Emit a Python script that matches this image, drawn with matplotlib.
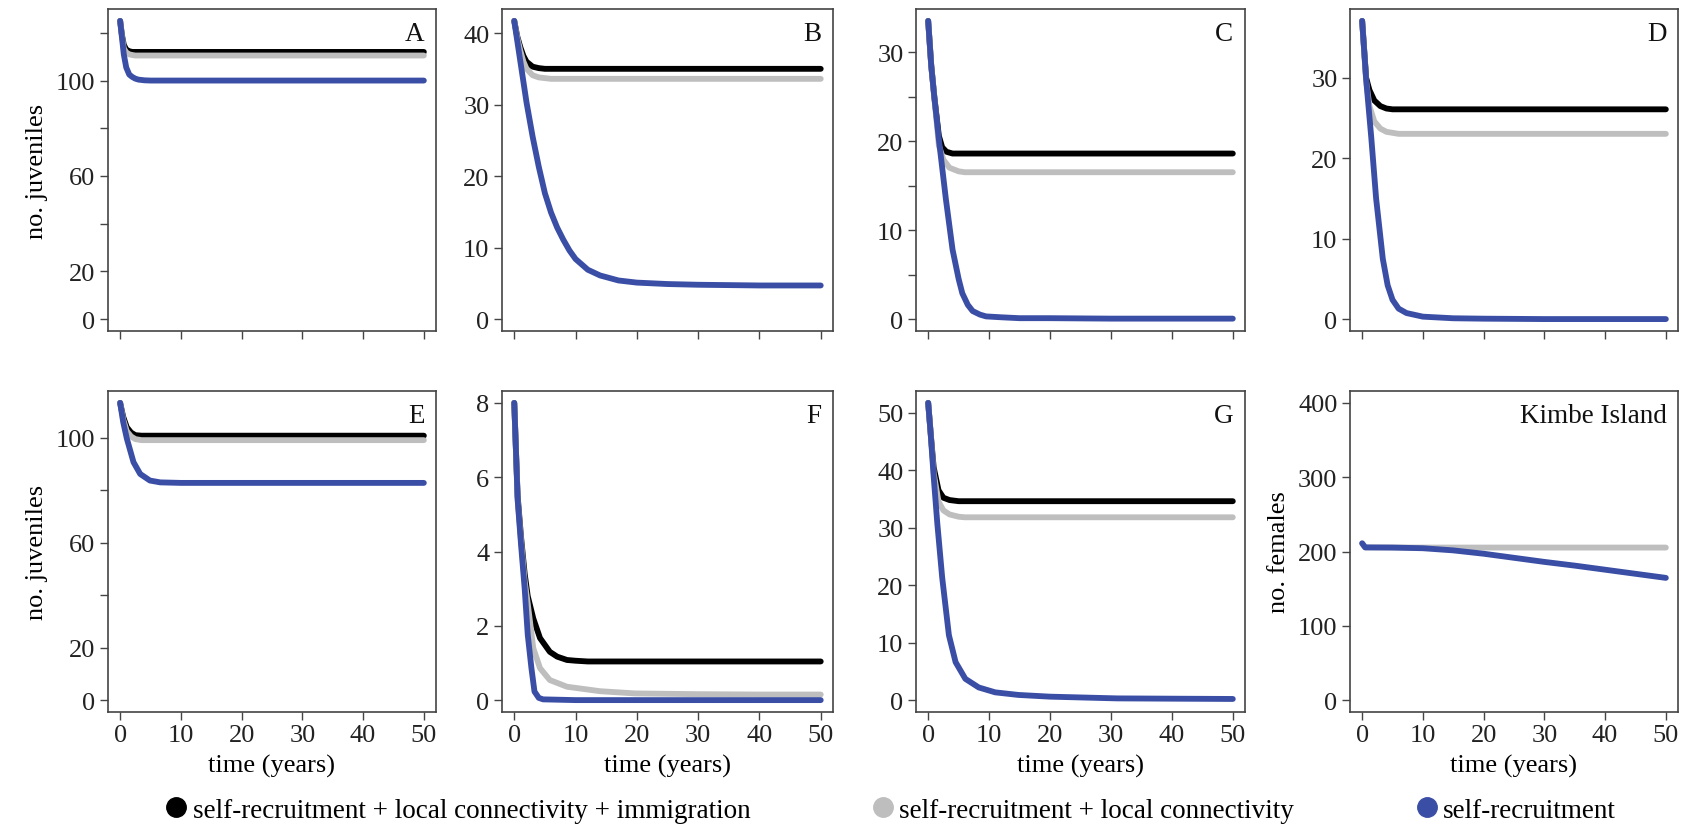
import matplotlib
matplotlib.use('Agg')
import matplotlib.pyplot as plt
from matplotlib.lines import Line2D

plt.rcParams['font.family'] = ['Liberation Serif', 'DejaVu Serif']
plt.rcParams['font.size'] = 19

BLACK = '#000000'
GRAY = '#bebebe'
BLUE = '#3a4ea6'

legend_labels = ['self-recruitment + local connectivity + immigration',
                 'self-recruitment + local connectivity',
                 'self-recruitment']

# ---- data: (time, value) per series and panel ----
# A
tA_blue = [0, 0.3, 0.6, 1, 1.5, 2, 2.5, 3, 4, 5, 10, 20, 30, 40, 50]
yA_blue = [125, 118, 111, 105.5, 102.5, 101.5, 100.8, 100.4, 100.1, 100, 100, 100, 100, 100, 100]
tA_black = [0, 0.3, 0.6, 1, 1.5, 2, 3, 10, 20, 30, 40, 50]
yA_black = [125, 119, 115, 113, 112.3, 112, 112, 112, 112, 112, 112, 112]
tA_gray = [0, 0.3, 0.6, 1, 1.5, 2, 2.5, 3, 10, 20, 30, 40, 50]
yA_gray = [125, 118.5, 113.5, 111.8, 111, 110.7, 110.5, 110.5, 110.5, 110.5, 110.5, 110.5, 110.5]

# B
tB_blue = [0, 1, 2, 3, 4, 5, 6, 7, 8, 9, 10, 12, 14, 17, 20, 25, 30, 40, 50]
yB_blue = [41.7, 36.0, 30.3, 25.5, 21.3, 17.6, 14.9, 12.8, 11.1, 9.6, 8.4, 6.9, 6.1, 5.4, 5.1, 4.9, 4.8, 4.7, 4.7]
tB_black = [0, 0.5, 1, 1.5, 2, 3, 4, 5, 10, 20, 30, 40, 50]
yB_black = [41.7, 39.5, 38, 36.8, 36.0, 35.3, 35.1, 35.0, 35.0, 35.0, 35.0, 35.0, 35.0]
tB_gray = [0, 0.5, 1, 1.5, 2, 3, 4, 6, 10, 20, 30, 40, 50]
yB_gray = [41.7, 39.3, 37.5, 36, 35, 34.1, 33.8, 33.6, 33.6, 33.6, 33.6, 33.6, 33.6]

# C
tC_blue = [0, 0.5, 1, 1.75, 2.9, 4, 5, 5.6, 6.5, 7.3, 8.5, 9.5, 12, 15, 20, 30, 40, 50]
yC_blue = [33.5, 28.5, 25, 20.2, 13.5, 7.8, 4.5, 2.9, 1.6, 0.9, 0.5, 0.3, 0.2, 0.1, 0.1, 0.05, 0.05, 0.05]
tC_black = [0, 0.5, 1, 1.75, 2.3, 3, 4, 10, 20, 30, 40, 50]
yC_black = [33.5, 28.5, 25, 20.6, 19.3, 18.8, 18.6, 18.6, 18.6, 18.6, 18.6, 18.6]
tC_gray = [0, 0.5, 1, 1.75, 2.5, 3.5, 5, 6, 10, 20, 30, 40, 50]
yC_gray = [33.5, 28.5, 25, 19.5, 17.9, 17.0, 16.6, 16.5, 16.5, 16.5, 16.5, 16.5, 16.5]

# D
tD_blue = [0, 0.66, 1.5, 2.3, 3.4, 4.2, 5, 6, 7.3, 10, 15, 20, 30, 40, 50]
yD_blue = [37.1, 29.8, 22.6, 15, 7.5, 4.2, 2.4, 1.3, 0.75, 0.3, 0.1, 0.05, 0, 0, 0]
tD_black = [0, 0.66, 1.2, 2, 3, 4, 5, 10, 20, 30, 40, 50]
yD_black = [37.1, 30, 28.5, 27.2, 26.5, 26.2, 26.1, 26.1, 26.1, 26.1, 26.1, 26.1]
tD_gray = [0, 0.66, 1.2, 2, 3, 4, 6, 10, 20, 30, 40, 50]
yD_gray = [37.1, 29.6, 26.5, 24.6, 23.7, 23.3, 23.05, 23.05, 23.05, 23.05, 23.05, 23.05]

# E
tE_blue = [0, 0.5, 1.1, 2.2, 3.3, 4.9, 6.6, 10, 20, 30, 40, 50]
yE_blue = [113.3, 106, 99.7, 90.7, 86.2, 83.7, 83, 82.8, 82.8, 82.8, 82.8, 82.8]
tE_black = [0, 0.5, 1.1, 1.8, 2.5, 3.5, 10, 20, 30, 40, 50]
yE_black = [113.3, 108, 104, 102, 101, 100.8, 100.8, 100.8, 100.8, 100.8, 100.8]
tE_gray = [0, 0.5, 1.1, 1.8, 2.5, 3.5, 10, 20, 30, 40, 50]
yE_gray = [113.3, 107, 102.5, 100.5, 99.5, 99.1, 99.1, 99.1, 99.1, 99.1, 99.1]

# F
tF_blue = [0, 0.28, 0.55, 1.1, 1.7, 2.2, 2.8, 3.3, 4, 4.7, 10, 20, 30, 40, 50]
yF_blue = [8, 6.7, 5.4, 4.2, 3.0, 1.76, 0.86, 0.23, 0.06, 0.02, 0, 0, 0, 0, 0]
tF_black = [0, 0.28, 0.55, 1.1, 1.7, 2.2, 3.1, 4.2, 5.8, 7, 8.6, 10, 12, 20, 30, 40, 50]
yF_black = [8, 6.7, 5.5, 4.4, 3.4, 2.8, 2.2, 1.67, 1.3, 1.17, 1.08, 1.06, 1.04, 1.04, 1.04, 1.04, 1.04]
tF_gray = [0, 0.28, 0.55, 1.1, 1.7, 2.2, 3.1, 4.2, 5.8, 8.6, 14, 19.7, 30, 40, 50]
yF_gray = [8, 6.7, 5.4, 4.3, 3.2, 2.6, 1.4, 0.86, 0.54, 0.36, 0.24, 0.18, 0.16, 0.15, 0.15]

# G
tG_blue = [0, 0.4, 0.9, 1.5, 2.3, 3.4, 4.5, 6.1, 8.3, 11, 14.8, 20, 31, 40, 50]
yG_blue = [51.7, 46.5, 38.9, 30.7, 21.3, 11.3, 6.6, 3.7, 2.2, 1.35, 0.9, 0.6, 0.3, 0.25, 0.2]
tG_black = [0, 0.4, 0.9, 1.7, 2.5, 3.5, 5, 10, 20, 30, 40, 50]
yG_black = [51.7, 46.5, 40.5, 36.5, 35.2, 34.8, 34.6, 34.6, 34.6, 34.6, 34.6, 34.6]
tG_gray = [0, 0.4, 0.9, 1.7, 2.5, 3.5, 5, 6, 10, 20, 30, 40, 50]
yG_gray = [51.7, 46.5, 39.5, 34.5, 33, 32.3, 31.9, 31.8, 31.8, 31.8, 31.8, 31.8, 31.8]

# Kimbe Island (no. females)
tH_blue = [0, 0.5, 5, 10, 15, 20, 25, 30, 35, 40, 45, 50]
yH_blue = [211, 205.5, 205.3, 204.4, 201.5, 197, 191.5, 186, 181, 175.5, 170, 164.5]
tH_gray = [0, 0.5, 10, 20, 30, 40, 50]
yH_gray = [211, 205.5, 205.3, 205.3, 205.3, 205.3, 205.3]

panels = [
    ('A', [(tA_black, yA_black), (tA_gray, yA_gray), (tA_blue, yA_blue)], 125,
     [0, 20, 40, 60, 80, 100, 120], ['0', '20', '', '60', '', '100', '']),
    ('B', [(tB_black, yB_black), (tB_gray, yB_gray), (tB_blue, yB_blue)], 41.7,
     [0, 10, 20, 30, 40], None),
    ('C', [(tC_black, yC_black), (tC_gray, yC_gray), (tC_blue, yC_blue)], 33.5,
     [0, 5, 10, 15, 20, 25, 30], ['0', '', '10', '', '20', '', '30']),
    ('D', [(tD_black, yD_black), (tD_gray, yD_gray), (tD_blue, yD_blue)], 37.1,
     [0, 10, 20, 30], None),
    ('E', [(tE_black, yE_black), (tE_gray, yE_gray), (tE_blue, yE_blue)], 113.3,
     [0, 20, 40, 60, 80, 100], ['0', '20', '', '60', '', '100']),
    ('F', [(tF_black, yF_black), (tF_gray, yF_gray), (tF_blue, yF_blue)], 8,
     [0, 2, 4, 6, 8], None),
    ('G', [(tG_black, yG_black), (tG_gray, yG_gray), (tG_blue, yG_blue)], 51.7,
     [0, 10, 20, 30, 40, 50], None),
    ('Kimbe Island', [(None, None), (tH_gray, yH_gray), (tH_blue, yH_blue)], 400,
     [0, 100, 200, 300, 400], None),
]

W, H = 1683, 828
fig = plt.figure(figsize=(W / 100, H / 100), dpi=100)

col_px = [(108, 436), (502, 833), (916, 1245), (1350, 1678)]
row_px = [(10, 332), (392, 713)]
colors = [BLACK, GRAY, BLUE]

for i, (label, series, ymax, yticks, yticklabels) in enumerate(panels):
    r, c = divmod(i, 4)
    x0, x1 = col_px[c]
    y0, y1 = row_px[r]
    ax = fig.add_axes([x0 / W, 1 - y1 / H, (x1 - x0) / W, (y1 - y0) / H])

    for (t, y), col in zip(series, colors):
        if t is None:
            continue
        ax.plot(t, y, color=col, lw=4.2, solid_capstyle='round',
                solid_joinstyle='round')

    ax.set_xlim(-2, 52)
    ax.set_ylim(-0.04 * ymax, 1.04 * ymax)
    ax.set_xticks([0, 10, 20, 30, 40, 50])
    ax.set_yticks(yticks)
    if yticklabels is not None:
        ax.set_yticklabels(yticklabels)
    if r == 0:
        ax.set_xticklabels([])
    else:
        ax.set_xlabel('time (years)', labelpad=5)

    ax.tick_params(direction='out', length=6, width=1, color='#444444',
                   pad=3, labelcolor='#222222')
    for sp in ax.spines.values():
        sp.set_color('#444444')
        sp.set_linewidth(1.2)

    ax.text(0.965, 0.925, label, transform=ax.transAxes, ha='right',
            va='center', fontsize=19.5, color='#111111')

    if c == 0:
        ax.set_ylabel('no. juveniles', labelpad=6)
    if i == 7:
        ax.set_ylabel('no. females', labelpad=6)

handles = [Line2D([], [], ls='none', marker='o', ms=14, color=col) for col in colors]
fig.legend(handles, legend_labels, loc='center', bbox_to_anchor=(0.53, 0.02),
           ncol=3, frameon=False, fontsize=19.5, handlelength=0.6,
           handletextpad=0.3, columnspacing=4.6, borderpad=0)

fig.savefig('out.png', dpi=100)
